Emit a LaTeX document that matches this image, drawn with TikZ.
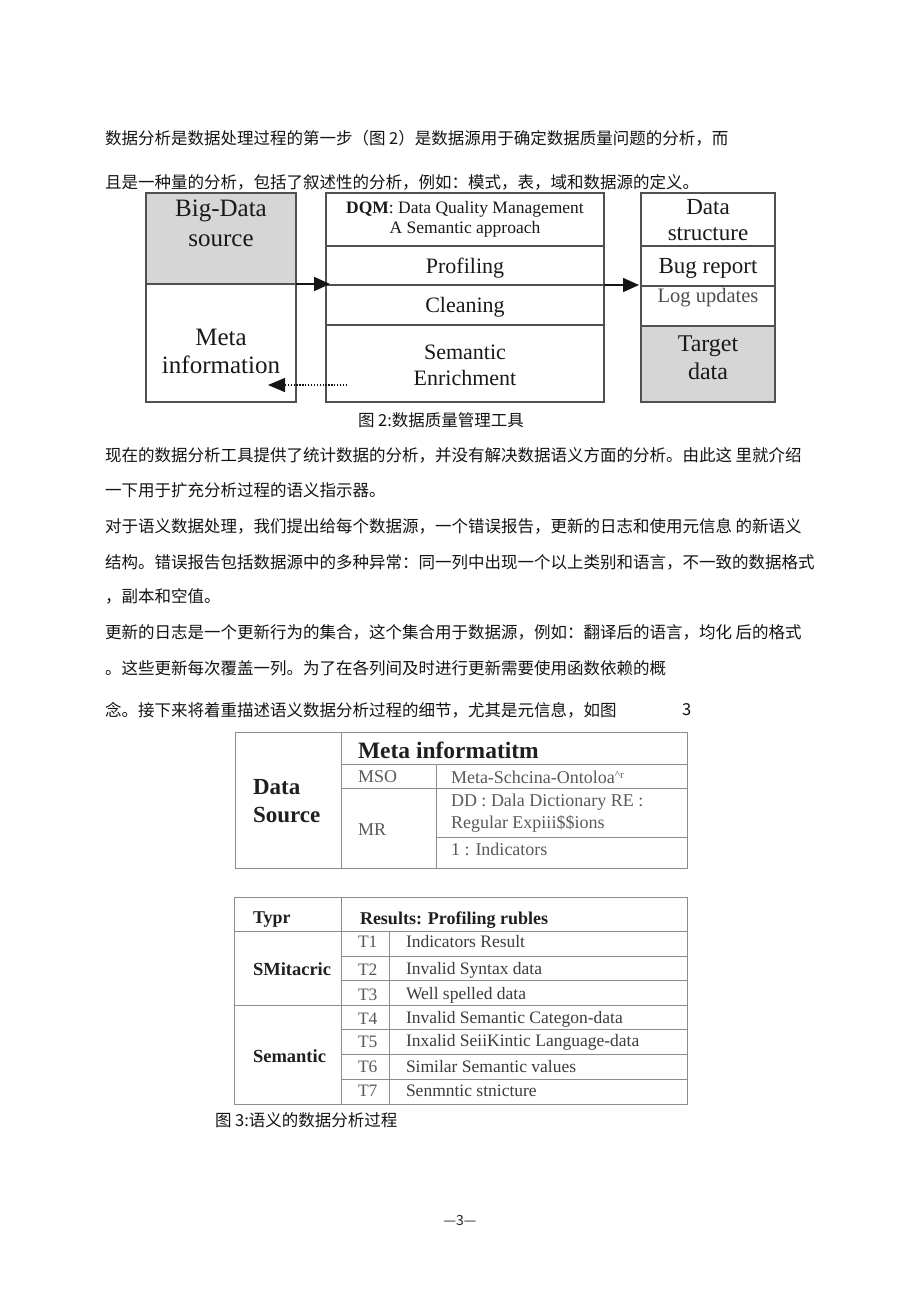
\documentclass[tikz,border=0pt]{standalone}
\usepackage{fontspec}
\setmainfont{Liberation Serif}
\newfontfamily\cjk{Noto Sans CJK SC}
\usetikzlibrary{arrows.meta}
\definecolor{boxline}{HTML}{505050}
\definecolor{boxfill}{HTML}{D6D6D6}
\definecolor{tabline}{HTML}{8C8C8C}
\definecolor{tabtext}{HTML}{5A5A5A}
\definecolor{desctext}{HTML}{3C3C3C}
\definecolor{arrowcol}{HTML}{151515}
\begin{document}
\begin{tikzpicture}[x=1pt,y=-1pt,
  every node/.style={inner sep=0pt,outer sep=0pt},
  para/.style={anchor=west,font=\cjk\fontsize{16.5}{20}\selectfont,text=black!92},
  cellbox/.style={draw=boxline,line width=1.4pt,fill=white},
  grayfill/.style={fill=boxfill},
  figtxt/.style={align=center,text=black!90},
  tabtxt/.style={anchor=west,text=tabtext,font=\fontsize{18}{21}\selectfont},
  tabbold/.style={anchor=west,text=black!88,font=\bfseries\fontsize{18.5}{22}\selectfont},
  rowtxt/.style={anchor=west,text=tabtext,font=\fontsize{17.5}{20}\selectfont},
  desctxt/.style={anchor=west,text=desctext,font=\fontsize{17.5}{20}\selectfont},
  tabrule/.style={draw=tabline,line width=1pt}
]
\useasboundingbox (0,0) rectangle (920,1303);
\fill[white] (0,0) rectangle (920,1303);

% ---- paragraph lines ----
\node[para] (l1) at (105,138) {数据分析是数据处理过程的第一步（图 2）是数据源用于确定数据质量问题的分析，而};
\node[para] (l2) at (105,182) {且是一种量的分析，包括了叙述性的分析，例如：模式，表，域和数据源的定义。};

% ---- Figure 2 ----
\node[cellbox,grayfill,minimum width=150pt,minimum height=91pt] (bigsrc) at (221,238.5) {};
\node[cellbox,minimum width=150pt,minimum height=118pt] (meta) at (221,343) {};
\node[cellbox,minimum width=278pt,minimum height=53pt] (dqm) at (465,219.5) {};
\node[cellbox,minimum width=278pt,minimum height=39pt] (prof) at (465,265.5) {};
\node[cellbox,minimum width=278pt,minimum height=40pt] (clean) at (465,305) {};
\node[cellbox,minimum width=278pt,minimum height=77pt] (sem) at (465,363.5) {};
\node[cellbox,minimum width=134pt,minimum height=53pt] (dstruct) at (708,219.5) {};
\node[cellbox,minimum width=134pt,minimum height=40pt] (bug) at (708,266) {};
\node[cellbox,minimum width=134pt,minimum height=40pt] (logu) at (708,306) {};
\node[cellbox,grayfill,minimum width=134pt,minimum height=76pt] (target) at (708,364) {};
\draw[boxline,line width=2.8pt] (dqm.south west) -- (dqm.south east);
\draw[boxline,line width=2.8pt] (logu.south west) -- (logu.south east);

\node[figtxt,font=\fontsize{25}{30}\selectfont] (tbig) at (221,223) {Big-Data\\source};
\node[figtxt,font=\fontsize{25}{28}\selectfont] (tmeta) at (221,351) {Meta\\information};
\node[figtxt,font=\fontsize{17.5}{20}\selectfont] (tdqm) at (465,219.5) {\textbf{DQM}: Data Quality Management\\A Semantic approach};
\node[figtxt,font=\fontsize{22}{26}\selectfont] (tprof) at (465,268) {Profiling};
\node[figtxt,font=\fontsize{22}{26}\selectfont] (tclean) at (465,307) {Cleaning};
\node[figtxt,font=\fontsize{22}{26}\selectfont] (tsem) at (465,365.5) {Semantic\\Enrichment};
\node[figtxt,font=\fontsize{23}{26}\selectfont] (tds) at (708,220) {Data\\structure};
\node[figtxt,font=\fontsize{23}{26}\selectfont] (tbug) at (708,268) {Bug report};
\node[figtxt,text=black!70,font=\fontsize{20.5}{24}\selectfont] (tlog) at (708,298) {Log updates};
\node[figtxt,font=\fontsize{24}{28}\selectfont] (ttarget) at (708,358) {Target\\data};

\draw[arrowcol,line width=1.6pt,-{Triangle[length=16pt,width=14pt]},shorten >=-4pt]
  (bigsrc.south east) -- (bigsrc.south east -| prof.west);
\draw[arrowcol,line width=1.6pt,-{Triangle[length=16pt,width=14pt]},shorten >=2pt]
  (prof.south east) -- (prof.south east -| logu.west);
\coordinate (dotstart) at (347,385);
\coordinate (dotend) at (268,385);
\draw[arrowcol,line width=1.3pt,dash pattern=on 1.3pt off 1.6pt,-{Triangle[length=17pt,width=14pt]}]
  (dotstart) -- (dotend);

\node[para] (cap2) at (358,420) {图 2:数据质量管理工具};

% ---- body text ----
\node[para] (l3) at (105,455) {现在的数据分析工具提供了统计数据的分析，并没有解决数据语义方面的分析。由此这 里就介绍};
\node[para] (l4) at (105,490) {一下用于扩充分析过程的语义指示器。};
\node[para] (l5) at (105,526) {对于语义数据处理，我们提出给每个数据源，一个错误报告，更新的日志和使用元信息 的新语义};
\node[para] (l6) at (105,562) {结构。错误报告包括数据源中的多种异常：同一列中出现一个以上类别和语言，不一致的数据格式};
\node[para] (l7) at (105,596) {，副本和空值。};
\node[para] (l8) at (105,632) {更新的日志是一个更新行为的集合，这个集合用于数据源，例如：翻译后的语言，均化 后的格式};
\node[para] (l9) at (105,668) {。这些更新每次覆盖一列。为了在各列间及时进行更新需要使用函数依赖的概};
\node[para] (l10) at (105,710) {念。接下来将着重描述语义数据分析过程的细节，尤其是元信息，如图};
\node[para] (l10b) at (682,710) {3};

% ---- Table 1 ----
\draw[tabrule] (235,732) rectangle (687,868);
\draw[tabrule] (341,732) -- (341,868);
\draw[tabrule] (341,764) -- (687,764);
\draw[tabrule] (341,788) -- (687,788);
\draw[tabrule] (436,764) -- (436,868);
\draw[tabrule] (436,837) -- (687,837);
\node[anchor=west,text=black!88,font=\bfseries\fontsize{23.5}{28}\selectfont] (mih) at (358,750) {Meta informatitm};
\node[anchor=west,align=left,text=black!88,font=\bfseries\fontsize{23}{28}\selectfont] (dsrc) at (253,801) {Data\\Source};
\node[tabtxt] (mso) at (358,777) {MSO};
\node[tabtxt] (msov) at (451,777) {Meta-Schcina-Ontoloa\raisebox{5pt}{\fontsize{11}{11}\selectfont\textasciicircum r}};
\node[tabtxt] (mr) at (358,830) {MR};
\node[tabtxt] (dd) at (451,802) {DD : Dala Dictionary RE :};
\node[tabtxt] (re) at (451,824) {Regular Expiii\$\$ions};
\node[tabtxt] (ind) at (451,849) {1 : Indicators};

% ---- Table 2 ----
\draw[tabrule] (234,897) rectangle (687,1104);
\draw[tabrule] (234,931) -- (687,931);
\draw[tabrule] (341,897) -- (341,1104);
\draw[tabrule] (389,931) -- (389,1104);
\draw[tabrule] (341,956) -- (687,956);
\draw[tabrule] (341,980) -- (687,980);
\draw[tabrule] (234,1005) -- (687,1005);
\draw[tabrule] (341,1029) -- (687,1029);
\draw[tabrule] (341,1054) -- (687,1054);
\draw[tabrule] (341,1079) -- (687,1079);
\node[tabbold,font=\bfseries\fontsize{18}{22}\selectfont] (typ) at (253,920) {Typr};
\node[tabbold,font=\bfseries\fontsize{18}{22}\selectfont] (res) at (360,920) {Results: Profiling rubles};
\node[tabbold] (syn) at (253,969) {SMitacric};
\node[tabbold] (semh) at (253,1056) {Semantic};
\node[rowtxt] (t1) at (358,942) {T1};
\node[rowtxt] (t2) at (358,970) {T2};
\node[rowtxt] (t3) at (358,995) {T3};
\node[rowtxt] (t4) at (358,1019) {T4};
\node[rowtxt] (t5) at (358,1042) {T5};
\node[rowtxt] (t6) at (358,1067) {T6};
\node[rowtxt] (t7) at (358,1091) {T7};
\node[desctxt] (d1) at (406,942) {Indicators Result};
\node[desctxt] (d2) at (406,970) {Invalid Syntax data};
\node[desctxt] (d3) at (406,995) {Well spelled data};
\node[desctxt] (d4) at (406,1019) {Invalid Semantic Categon-data};
\node[desctxt] (d5) at (406,1042) {Inxalid SeiiKintic Language-data};
\node[desctxt] (d6) at (406,1067) {Similar Semantic values};
\node[desctxt] (d7) at (406,1091) {Senmntic stnicture};

\node[para] (cap3) at (215,1120) {图 3:语义的数据分析过程};

\node[font=\cjk\fontsize{14}{16}\selectfont,text=black!85] (pgno) at (460,1220) {—3—};
\end{tikzpicture}
\end{document}
